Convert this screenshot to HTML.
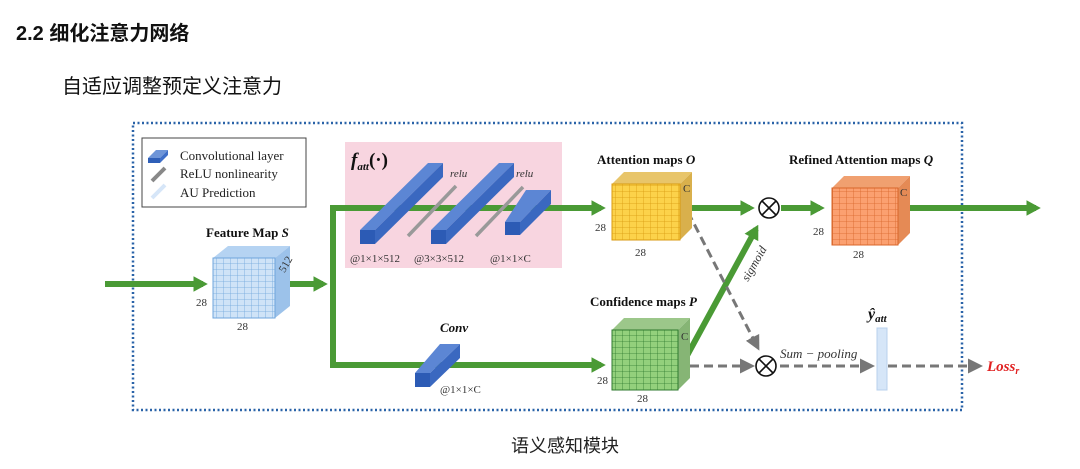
<!DOCTYPE html>
<html><head><meta charset="utf-8"><style>
body{margin:0;background:#fff;width:1080px;height:469px;overflow:hidden}
svg{display:block}
.cj{font-family:"Liberation Sans","Noto Sans CJK SC",sans-serif}
.s{font-family:"Liberation Serif",serif}
</style></head><body>
<svg width="1080" height="469" viewBox="0 0 1080 469" xmlns="http://www.w3.org/2000/svg">
<defs>
<marker id="ga" markerWidth="2.4" markerHeight="2.6" refX="1.6" refY="1.3" orient="auto" markerUnits="strokeWidth"><path d="M0,0 L2.4,1.3 L0,2.6z" fill="#4a9a35"/></marker>
<marker id="da" markerWidth="5" markerHeight="5" refX="4" refY="2.5" orient="auto" markerUnits="strokeWidth"><path d="M0,0 L5,2.5 L0,5z" fill="#777"/></marker>
<pattern id="gb" width="7" height="6" patternUnits="userSpaceOnUse"><path d="M7 0V6M0 6H7" stroke="#6fa6dc" stroke-width="0.8" fill="none"/></pattern>
<pattern id="gy" width="7" height="6" patternUnits="userSpaceOnUse"><path d="M7 0V6M0 6H7" stroke="#d99a10" stroke-width="0.8" fill="none"/></pattern>
<pattern id="gg" width="7" height="6" patternUnits="userSpaceOnUse"><path d="M7 0V6M0 6H7" stroke="#2f7a2f" stroke-width="0.8" fill="none"/></pattern>
<pattern id="go" width="7" height="6" patternUnits="userSpaceOnUse"><path d="M7 0V6M0 6H7" stroke="#d8662a" stroke-width="0.8" fill="none"/></pattern>
</defs>
<text x="16" y="40" class="cj" font-size="20" font-weight="bold" fill="#111">2.2 细化注意力网络</text>
<text x="62" y="93" class="cj" font-size="20" fill="#111">自适应调整预定义注意力</text>
<text x="565" y="452" class="cj" font-size="18" fill="#222" text-anchor="middle">语义感知模块</text>

<rect x="133" y="123" width="829" height="287" fill="none" stroke="#2a63a8" stroke-width="2.5" stroke-dasharray="2 2.5"/>
<rect x="345" y="142" width="217" height="126" fill="#f8d5e0"/>

<rect x="142" y="138" width="164" height="69" fill="#fff" stroke="#444" stroke-width="1"/>
<polygon points="148,158 156,150 168,150 160,158" fill="#6e95d8"/><rect x="148" y="158" width="12" height="5" fill="#2f5fb8"/><polygon points="160,158 168,150 168,155 160,163" fill="#3f6fc8"/>
<line x1="152" y1="181" x2="165" y2="168" stroke="#888" stroke-width="4"/>
<line x1="152" y1="198" x2="165" y2="185" stroke="#d6e6f8" stroke-width="4"/>
<g class="s" font-size="13" fill="#222"><text x="180" y="160">Convolutional layer</text><text x="180" y="178">ReLU nonlinearity</text><text x="180" y="197">AU Prediction</text></g>

<g stroke="#4a9a35" stroke-width="6" fill="none">
<line x1="105" y1="284" x2="203" y2="284" marker-end="url(#ga)"/>
<line x1="285" y1="284" x2="323" y2="284" marker-end="url(#ga)"/>
<polyline points="333,284 333,208 601,208" marker-end="url(#ga)"/>
<polyline points="333,284 333,365 601,365" marker-end="url(#ga)"/>
<line x1="690" y1="208" x2="750" y2="208" marker-end="url(#ga)"/>
<line x1="781" y1="208" x2="820" y2="208" marker-end="url(#ga)"/>
<line x1="902" y1="208" x2="1036" y2="208" marker-end="url(#ga)"/>
<line x1="683" y1="363" x2="756" y2="229" marker-end="url(#ga)"/>
</g>
<g stroke="#777" stroke-width="3" fill="none" stroke-dasharray="9 5">
<line x1="688" y1="212" x2="758" y2="348" marker-end="url(#da)"/>
<line x1="690" y1="366" x2="752" y2="366" marker-end="url(#da)"/>
<line x1="780" y1="366" x2="872" y2="366" marker-end="url(#da)"/>
<line x1="888" y1="366" x2="980" y2="366" marker-end="url(#da)"/>
</g>

<g>
<polygon points="360,230 428,163 443,163 375,230" fill="#5c86d4"/><polygon points="375,230 443,163 443,177 375,244" fill="#3a68c0"/><rect x="360" y="230" width="15" height="14" fill="#2c5bb5"/>
<line x1="408" y1="236" x2="456" y2="186" stroke="#999" stroke-width="3.5"/>
<polygon points="431,230 499,163 514,163 446,230" fill="#5c86d4"/><polygon points="446,230 514,163 514,177 446,244" fill="#3a68c0"/><rect x="431" y="230" width="15" height="14" fill="#2c5bb5"/>
<line x1="476" y1="236" x2="523" y2="187" stroke="#999" stroke-width="3.5"/>
<polygon points="505,222 526,190 551,190 520,222" fill="#5c86d4"/><polygon points="520,222 551,190 551,204 520,235" fill="#3a68c0"/><rect x="505" y="222" width="15" height="13" fill="#2c5bb5"/>
<polygon points="415,373 440,344 460,344 430,373" fill="#5c86d4"/><polygon points="430,373 460,344 460,358 430,387" fill="#3a68c0"/><rect x="415" y="373" width="15" height="14" fill="#2c5bb5"/>
</g>
<text x="351" y="166" class="s" font-size="19" font-weight="bold" font-style="italic" fill="#111">f<tspan font-size="11" dy="4">att</tspan><tspan dy="-4" font-style="normal">(·)</tspan></text>
<g class="s" font-size="11" font-style="italic" fill="#333"><text x="450" y="177">relu</text><text x="516" y="177">relu</text></g>
<g class="s" font-size="11" fill="#333"><text x="350" y="262">@1×1×512</text><text x="414" y="262">@3×3×512</text><text x="490" y="262">@1×1×C</text><text x="440" y="393">@1×1×C</text></g>
<text x="440" y="332" class="s" font-size="13" font-weight="bold" font-style="italic" fill="#111">Conv</text>

<polygon points="213,258 228,246 290,246 275,258" fill="#b5d3f2"/><polygon points="275,258 290,246 290,306 275,318" fill="#9cc2ea"/>
<rect x="213" y="258" width="62" height="60" fill="#cfe3f7"/><rect x="213" y="258" width="62" height="60" fill="url(#gb)" stroke="#6fa6dc"/>
<text x="206" y="237" class="s" font-size="13" font-weight="bold" fill="#111">Feature Map <tspan font-style="italic">S</tspan></text>
<text x="278" y="270" class="s" font-size="11" fill="#333" transform="rotate(-60 284 266)">512</text>
<g class="s" font-size="11" fill="#333"><text x="196" y="306">28</text><text x="237" y="330">28</text></g>

<polygon points="612,184 624,172 692,172 680,184" fill="#e8c56a"/><polygon points="680,184 692,172 692,228 680,240" fill="#d9b04c"/>
<rect x="612" y="184" width="68" height="56" fill="#fcd24a"/><rect x="612" y="184" width="68" height="56" fill="url(#gy)" stroke="#d99a10"/>
<text x="597" y="164" class="s" font-size="13" font-weight="bold" fill="#111">Attention maps <tspan font-style="italic">O</tspan></text>
<g class="s" font-size="11" fill="#333"><text x="683" y="192">C</text><text x="595" y="231">28</text><text x="635" y="256">28</text></g>

<polygon points="612,330 624,318 690,318 678,330" fill="#9cc78a"/><polygon points="678,330 690,318 690,378 678,390" fill="#86b575"/>
<rect x="612" y="330" width="66" height="60" fill="#93d07c"/><rect x="612" y="330" width="66" height="60" fill="url(#gg)" stroke="#2f7a2f"/>
<text x="590" y="306" class="s" font-size="13" font-weight="bold" fill="#111">Confidence maps <tspan font-style="italic">P</tspan></text>
<g class="s" font-size="11" fill="#333"><text x="681" y="340">C</text><text x="597" y="384">28</text><text x="637" y="402">28</text></g>

<polygon points="832,188 844,176 910,176 898,188" fill="#f0a070"/><polygon points="898,188 910,176 910,233 898,245" fill="#e58a55"/>
<rect x="832" y="188" width="66" height="57" fill="#fba070"/><rect x="832" y="188" width="66" height="57" fill="url(#go)" stroke="#d8662a"/>
<text x="789" y="164" class="s" font-size="13" font-weight="bold" fill="#111">Refined Attention maps <tspan font-style="italic">Q</tspan></text>
<g class="s" font-size="11" fill="#333"><text x="900" y="196">C</text><text x="813" y="235">28</text><text x="853" y="258">28</text></g>

<g fill="#fff" stroke="#111" stroke-width="1.6">
<circle cx="769" cy="208" r="10"/><path d="M762,201 L776,215 M776,201 L762,215"/>
<circle cx="766" cy="366" r="10"/><path d="M759,359 L773,373 M773,359 L759,373"/>
</g>
<text x="0" y="0" class="s" font-size="12" font-style="italic" fill="#333" transform="translate(748,282) rotate(-60)">sigmoid</text>
<text x="780" y="358" class="s" font-size="13" font-style="italic" fill="#333">Sum − pooling</text>
<rect x="877" y="328" width="10" height="62" fill="#d6e6f8" stroke="#b8d0ec"/>
<text x="868" y="319" class="s" font-size="16" font-weight="bold" font-style="italic" fill="#111">ŷ<tspan font-size="11" dy="3">att</tspan></text>
<text x="987" y="371" class="s" font-size="15" font-weight="bold" font-style="italic" fill="#e02020">Loss<tspan font-size="10" dy="3">r</tspan></text>
</svg>
</body></html>
